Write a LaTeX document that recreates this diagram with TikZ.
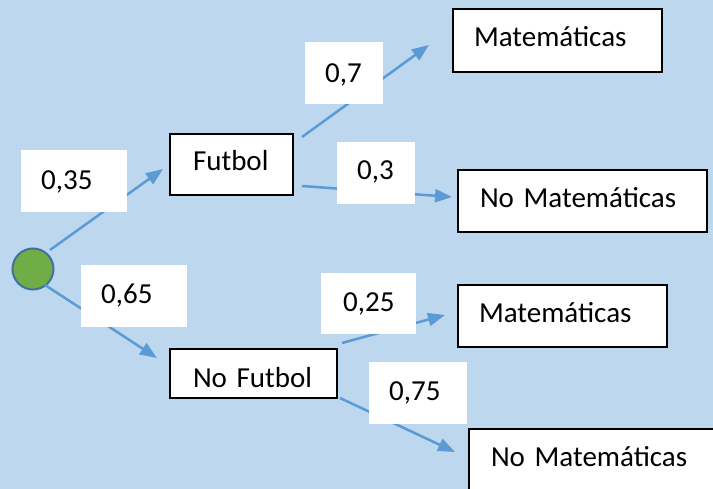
\documentclass[tikz,border=0pt]{standalone}
\usepackage{fontspec}
\setmainfont{Carlito}
\usetikzlibrary{arrows.meta}
\definecolor{bgblue}{HTML}{BDD7EE}
\definecolor{arrblue}{HTML}{5B9BD5}
\definecolor{dotgreen}{HTML}{70AD47}
\definecolor{dotedge}{HTML}{41719C}
\tikzset{
  base/.style={anchor=north west, fill=white, align=left, inner ysep=0pt,
    font=\fontsize{29}{35}\selectfont},
  box/.style={base, draw=black, line width=2pt},
  prob/.style={base},
  conn/.style={draw=arrblue, line width=2.5pt, -{Triangle[length=17pt,width=13pt]}},
}
\begin{document}
\begin{tikzpicture}[x=1pt,y=-1pt]
\clip (0,0) rectangle (713,489);
\fill[bgblue] (0,0) rectangle (713,489);
% start dot
\node[circle, minimum size=41pt, inner sep=0pt, fill=dotgreen, draw=dotedge, line width=2pt] (c) at (33,269) {};
% boxes
\node[box, inner xsep=23pt, text width=77pt, text height=37pt, text depth=24pt] (fut) at (169,133) {Futbol};
\node[box, inner xsep=23pt, text width=121pt, text height=39pt, text depth=10pt] (nfut) at (169,348) {No Futbol};
\node[box, inner xsep=21pt, text width=167pt, text height=38pt, text depth=25pt] (m1) at (452,8) {Matemáticas};
\node[box, inner xsep=22pt, text width=205pt, text height=38pt, text depth=24pt] (nm1) at (457,169) {No Matemáticas};
\node[box, inner xsep=21pt, text width=167pt, text height=38pt, text depth=24pt] (m2) at (457,284) {Matemáticas};
\node[box, inner xsep=22pt, text width=216pt, text height=37pt, text depth=35pt] (nm2) at (468,428) {No Matemáticas};
% connectors
\draw[conn] ([shift={(17,-19)}]c.center) -- ([shift={(-6,36)}]fut.north west);
\draw[conn] ([shift={(12,16)}]c.center) -- ([shift={(-12,10)}]nfut.north west);
\draw[conn] ([shift={(8,4)}]fut.north east) -- ([shift={(-23,37)}]m1.north west);
\draw[conn] ([shift={(8,53)}]fut.north east) -- ([shift={(-5,28)}]nm1.north west);
\draw[conn] ([shift={(4,-5)}]nfut.north east) -- ([shift={(-12,31)}]m2.north west);
\draw[conn] ([shift={(2,50)}]nfut.north east) -- ([shift={(-13,24)}]nm2.north west);
% probability labels
\node[prob, inner xsep=20pt, text width=66pt, text height=39pt, text depth=23pt] (p35) at (21,150) {0,35};
\node[prob, inner xsep=20pt, text width=66pt, text height=38pt, text depth=24pt] (p65) at (81,265) {0,65};
\node[prob, inner xsep=20pt, text width=38pt, text height=40pt, text depth=22pt] (p7) at (305,42) {0,7};
\node[prob, inner xsep=20pt, text width=38pt, text height=37pt, text depth=25pt] (p3) at (337,142) {0,3};
\node[prob, inner xsep=22pt, text width=51pt, text height=38pt, text depth=23pt] (p25) at (321,273) {0,25};
\node[prob, inner xsep=20pt, text width=58pt, text height=38pt, text depth=24pt] (p75) at (369,362) {0,75};
\end{tikzpicture}
\end{document}
